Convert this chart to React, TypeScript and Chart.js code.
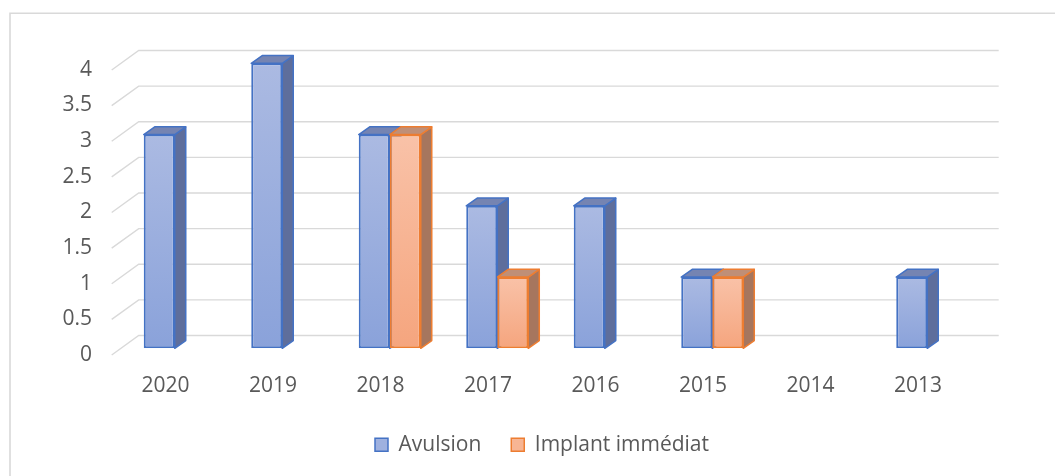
import React, { useEffect, useRef } from "react";
import { Chart, registerables } from "chart.js";

Chart.register(...registerables);

// ---- data ----
const categories = ["2020", "2019", "2018", "2017", "2016", "2015", "2014", "2013"];
const avulsion = [3, 4, 3, 2, 2, 1, 0, 1];
const implantImmediat = [0, 0, 3, 1, 0, 1, 0, 0];
const seriesNames = ["Avulsion", "Implant immédiat"];
const yMin = 0;
const yMax = 4;
const yStep = 0.5;

// ---- styles ----
const FONT_FAMILY = "'Open Sans', 'Noto Sans', sans-serif";
const TEXT_COLOR = "#595959";
const GRID_COLOR = "#d9d9d9";
const W = 1055;
const H = 476;

// 3D offsets relative to the plane of the bar front faces
const FRONT = { dx: -9.3, dy: 6.7 };
const BACK = { dx: 17.7, dy: -12.8 };
const BAR_DEPTH = { dx: 11, dy: -7.7 };

const palette = [
  { border: "#4472C4", top: "#abbae2", bottom: "#8aa2da", side: "#5e6e9c", cap: "#7584b2", legend: "#9fb1df" },
  { border: "#ED7D31", top: "#f9c2a8", bottom: "#f5a57e", side: "#a6765e", cap: "#bf8f77", legend: "#f7b594" },
];

function frontFill(idx: number) {
  return (c: any) => {
    const p = palette[idx];
    const chart = c.chart;
    const ys = chart.scales && chart.scales.y;
    const v = c.raw;
    if (!ys || typeof v !== "number") return p.legend;
    const top = ys.getPixelForValue(v);
    const base = ys.getPixelForValue(0);
    if (!isFinite(top) || !isFinite(base) || base - top < 1) return p.legend;
    const g = chart.ctx.createLinearGradient(0, top, 0, base);
    g.addColorStop(0, p.top);
    g.addColorStop(1, p.bottom);
    return g;
  };
}

const depthPlugin = {
  id: "depth3d",
  afterLayout(chart: any) {
    const lg = chart.legend;
    if (lg) {
      const shift = 542 - (lg.left + lg.right) / 2;
      lg.left += shift;
      lg.right += shift;
    }
  },
  beforeDatasetsDraw(chart: any) {
    const { ctx, chartArea, scales } = chart;
    const y = scales.y;
    ctx.save();
    // outer frame (only top/left visible)
    ctx.strokeStyle = GRID_COLOR;
    ctx.lineWidth = 1.6;
    ctx.beginPath();
    ctx.moveTo(10, H);
    ctx.lineTo(10, 13.3);
    ctx.lineTo(W, 13.3);
    ctx.stroke();

    // gridlines: front diagonal + back wall line
    ctx.lineWidth = 1.4;
    const frontL = chartArea.left + FRONT.dx;
    const backL = chartArea.left + BACK.dx;
    const backR = chartArea.right + BACK.dx;
    y.ticks.forEach((t: any) => {
      const py = y.getPixelForValue(t.value);
      ctx.beginPath();
      ctx.moveTo(frontL, py + FRONT.dy);
      ctx.lineTo(backL, py + BACK.dy);
      ctx.lineTo(backR, py + BACK.dy);
      ctx.stroke();
    });

    // side and top faces
    ctx.lineWidth = 1.5;
    ctx.lineJoin = "round";
    for (let i = 0; i < categories.length; i++) {
      chart.data.datasets.forEach((ds: any, d: number) => {
        const v = ds.data[i];
        if (!v) return;
        const el = chart.getDatasetMeta(d).data[i];
        if (!el) return;
        const { x, y: top, base, width } = el.getProps(["x", "y", "base", "width"], true);
        const l = x - width / 2;
        const r = x + width / 2;
        const p = palette[d];
        ctx.strokeStyle = p.border;
        // side
        ctx.fillStyle = p.side;
        ctx.beginPath();
        ctx.moveTo(r, top);
        ctx.lineTo(r + BAR_DEPTH.dx, top + BAR_DEPTH.dy);
        ctx.lineTo(r + BAR_DEPTH.dx, base + BAR_DEPTH.dy);
        ctx.lineTo(r, base);
        ctx.closePath();
        ctx.fill();
        ctx.stroke();
        // top
        ctx.fillStyle = p.cap;
        ctx.beginPath();
        ctx.moveTo(l, top);
        ctx.lineTo(r, top);
        ctx.lineTo(r + BAR_DEPTH.dx, top + BAR_DEPTH.dy);
        ctx.lineTo(l + BAR_DEPTH.dx, top + BAR_DEPTH.dy);
        ctx.closePath();
        ctx.fill();
        ctx.stroke();
      });
    }
    ctx.restore();
  },
};

export default function App() {
  const ref = useRef<HTMLCanvasElement | null>(null);

  useEffect(() => {
    if (!ref.current) return;
    const font = { family: FONT_FAMILY, size: 21 };
    const chart = new Chart(ref.current, {
      type: "bar",
      data: {
        labels: categories,
        datasets: [
          {
            label: seriesNames[0],
            data: avulsion,
            backgroundColor: frontFill(0) as any,
            borderColor: palette[0].border,
            borderWidth: ((c: any) => (c.raw ? 2 : 0)) as any,
            borderSkipped: false,
            categoryPercentage: 0.577,
            barPercentage: 1,
          },
          {
            label: seriesNames[1],
            data: implantImmediat,
            backgroundColor: frontFill(1) as any,
            borderColor: palette[1].border,
            borderWidth: ((c: any) => (c.raw ? 2 : 0)) as any,
            borderSkipped: false,
            categoryPercentage: 0.577,
            barPercentage: 1,
          },
        ],
      },
      options: {
        responsive: false,
        animation: false,
        layout: { padding: { top: 63.3, left: 0, right: 74, bottom: 10.7 } },
        scales: {
          x: {
            type: "category",
            grid: { display: false, drawTicks: false },
            border: { display: false },
            ticks: {
              color: TEXT_COLOR,
              font,
              padding: 25,
              labelOffset: -9.3,
              maxRotation: 0,
              autoSkip: false,
            },
            afterFit: (s: any) => {
              s.height = 56;
            },
          },
          y: {
            min: yMin,
            max: yMax,
            grid: { display: false, drawTicks: false },
            border: { display: false },
            ticks: {
              stepSize: yStep,
              color: TEXT_COLOR,
              font,
              padding: 29,
              labelOffset: 6.5,
              callback: (v: any) => String(Number(v)),
            },
            afterFit: (s: any) => {
              s.width = 121;
            },
          },
        },
        plugins: {
          legend: {
            position: "bottom",
            labels: {
              color: TEXT_COLOR,
              font,
              boxWidth: 13,
              boxHeight: 13,
              padding: 30,
              generateLabels: (ch: any) =>
                ch.data.datasets.map((ds: any, i: number) => ({
                  text: ds.label,
                  fillStyle: palette[i].legend,
                  strokeStyle: palette[i].border,
                  lineWidth: 1.5,
                  fontColor: TEXT_COLOR,
                  hidden: false,
                  datasetIndex: i,
                })),
            },
          },
          tooltip: { enabled: false },
        },
      },
      plugins: [depthPlugin],
    });
    return () => chart.destroy();
  }, []);

  return (
    <div style={{ position: "absolute", left: 0, top: 0, width: W, height: H, background: "#fff" }}>
      <canvas ref={ref} width={W} height={H} style={{ display: "block" }} />
    </div>
  );
}
